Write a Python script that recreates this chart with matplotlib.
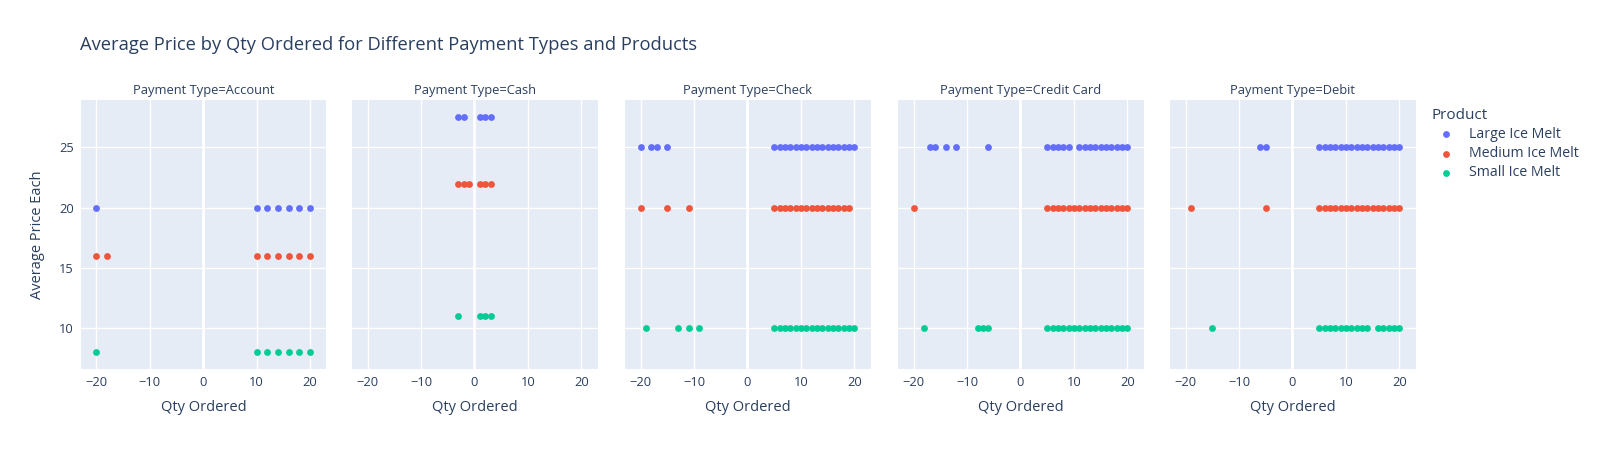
import matplotlib
matplotlib.use("Agg")
import matplotlib.pyplot as plt

plt.rcParams['font.family'] = ['Open Sans', 'DejaVu Sans']

payment_types = ["Account", "Cash", "Check", "Credit Card", "Debit"]
products = ["Large Ice Melt", "Medium Ice Melt", "Small Ice Melt"]
colors = ["#636EFA", "#EF553B", "#00CC96"]

# Qty ordered per (payment type, product); price per (payment type, product)
account_large_qty = [-20, 10, 12, 14, 16, 18, 20]
account_medium_qty = [-20, -18, 10, 12, 14, 16, 18, 20]
account_small_qty = [-20, 10, 12, 14, 16, 18, 20]
account_prices = [20, 16, 8]

cash_large_qty = [-3, -2, 1, 2, 3]
cash_medium_qty = [-3, -2, -1, 1, 2, 3]
cash_small_qty = [-3, 1, 2, 3]
cash_prices = [27.5, 22, 11]

check_large_qty = [-20, -18, -17, -15] + list(range(5, 21))
check_medium_qty = [-20, -15, -11] + list(range(5, 20))
check_small_qty = [-19, -13, -11, -9] + list(range(5, 21))
check_prices = [25, 20, 10]

credit_large_qty = [-17, -16, -14, -12, -6, 5, 6, 7, 8, 9, 11, 12, 13, 14, 15, 16, 17, 18, 19, 20]
credit_medium_qty = [-20] + list(range(5, 21))
credit_small_qty = [-18, -8, -7, -6] + list(range(5, 21))
credit_prices = [25, 20, 10]

debit_large_qty = [-6, -5] + list(range(5, 21))
debit_medium_qty = [-19, -5] + list(range(5, 21))
debit_small_qty = [-15, 5, 6, 7, 8, 9, 10, 11, 12, 13, 14, 16, 17, 18, 19, 20]
debit_prices = [25, 20, 10]

panel_qty = [
    [account_large_qty, account_medium_qty, account_small_qty],
    [cash_large_qty, cash_medium_qty, cash_small_qty],
    [check_large_qty, check_medium_qty, check_small_qty],
    [credit_large_qty, credit_medium_qty, credit_small_qty],
    [debit_large_qty, debit_medium_qty, debit_small_qty],
]
panel_prices = [account_prices, cash_prices, check_prices, credit_prices, debit_prices]

x_ticks = [-20, -10, 0, 10, 20]
y_ticks = [10, 15, 20, 25]

W, H = 1600, 450
fig = plt.figure(figsize=(16, 4.5), dpi=100)
text_color = "#2a3f5f"
bg = "#E5ECF6"

lefts = [80.7, 352, 625, 898, 1170]
pw = 245.5
top, bottom = 100, 369

axes = []
for i, pt in enumerate(payment_types):
    ax = fig.add_axes([lefts[i] / W, 1 - bottom / H, pw / W, (bottom - top) / H])
    axes.append(ax)
    ax.set_facecolor(bg)
    for s in ax.spines.values():
        s.set_visible(False)
    ax.set_xlim(-22.9, 23.0)
    ax.set_ylim(6.63, 28.92)
    ax.set_xticks(x_ticks)
    ax.set_yticks(y_ticks)
    ax.grid(True, color="white", linewidth=1.0, zorder=0)
    ax.axvline(0, color="white", linewidth=2.0, zorder=0.5)
    ax.set_axisbelow(True)
    ax.tick_params(axis="both", length=0, labelsize=9.3, colors=text_color, pad=5)
    ax.set_xticklabels([str(t).replace("-", "\u2212") for t in x_ticks])
    if i > 0:
        ax.set_yticklabels([])
    for j, prod in enumerate(products):
        q = panel_qty[i][j]
        ax.scatter(q, [panel_prices[i][j]] * len(q), s=24, color=colors[j],
                   linewidths=0, zorder=3, label=prod if i == 0 else None)
    ax.set_title(f"Payment Type={pt}", fontsize=9.3, color=text_color, pad=4)
    ax.set_xlabel("Qty Ordered", fontsize=10.5, color=text_color, labelpad=8)

axes[0].set_ylabel("Average Price Each", fontsize=10.5, color=text_color, labelpad=10)

fig.text(80 / W, 1 - 45 / H, "Average Price by Qty Ordered for Different Payment Types and Products",
         fontsize=13.2, color=text_color, va="center", ha="left")

handles, labels = axes[0].get_legend_handles_labels()
leg = fig.legend(handles, labels, title="Product", loc="upper left",
                 bbox_to_anchor=(1419 / W, 1 - 95 / H), frameon=False,
                 fontsize=10.2, title_fontsize=11, labelcolor=text_color,
                 handletextpad=0.6, labelspacing=0.3, markerscale=1.0)
leg.get_title().set_color(text_color)
leg._legend_box.align = "left"

fig.savefig("out.png", dpi=100, facecolor="white")
